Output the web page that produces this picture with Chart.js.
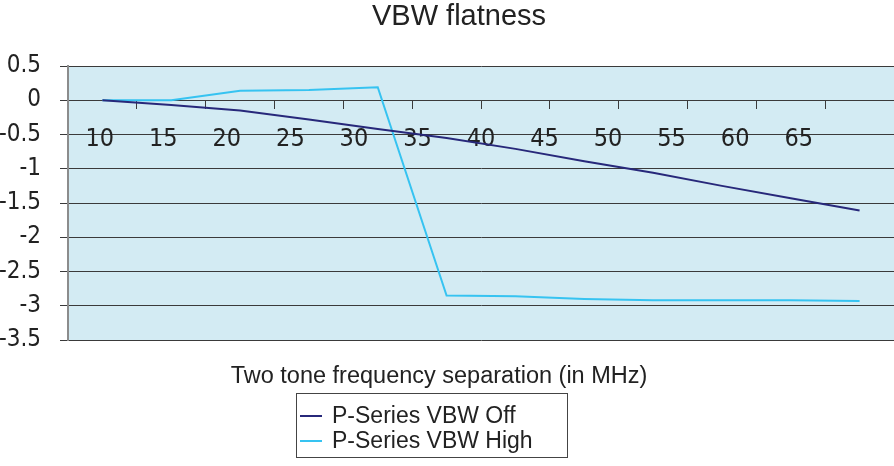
<!DOCTYPE html>
<html lang="en">
<head>
    <meta charset="UTF-8">
    <title>VBW flatness</title>
    <script src="https://cdn.jsdelivr.net/npm/chart.js"></script>
    <style>
        html, body { margin: 0; padding: 0; background: #fff; }
        #wrap { width: 894px; height: 466px; }
    </style>
</head>
<body>
    <div id="wrap"><canvas id="flatChart"></canvas></div>

    <script>
        // data
        const categories = ['10', '15', '20', '25', '30', '35', '40', '45', '50', '55', '60', '65'];
        const tickLabels = ['10', '15', '20', '25', '30', '35', '40', '45', '50', '55', '60', '65', ''];
        const vbwOff = [0, -0.07, -0.15, -0.28, -0.42, -0.55, -0.71, -0.89, -1.06, -1.25, -1.43, -1.61];
        const vbwHigh = [0, 0.0, 0.14, 0.15, 0.19, -2.85, -2.86, -2.90, -2.92, -2.92, -2.92, -2.93];
        const yTicks = [0.5, 0, -0.5, -1, -1.5, -2, -2.5, -3, -3.5];

        // no narrow Univers here, DejaVu condensed is the closest
        const narrow = "'DejaVu Sans Condensed', 'Liberation Sans', sans-serif";
        const sans = "'Liberation Sans', Arial, sans-serif";
        Chart.defaults.font.family = sans;
        Chart.defaults.color = '#222';

        // light blue plot background
        const plotBg = {
            id: 'plotBg',
            beforeDraw(chart) {
                const { ctx, chartArea: a } = chart;
                ctx.save();
                ctx.fillStyle = '#d3ebf3';
                ctx.fillRect(a.left, a.top, a.right - a.left, a.bottom - a.top);
                ctx.restore();
            }
        };

        // title, axis title and the boxed stacked legend
        const texts = {
            id: 'texts',
            afterDraw(chart) {
                const ctx = chart.ctx;
                ctx.save();
                ctx.fillStyle = '#222';
                ctx.textBaseline = 'middle';
                ctx.textAlign = 'center';
                ctx.font = '29px ' + sans;
                ctx.fillText('VBW flatness', 459, 17);

                ctx.font = '23.5px ' + sans;
                ctx.fillText('Two tone frequency separation (in MHz)', 439, 377);

                ctx.strokeStyle = '#444';
                ctx.lineWidth = 1;
                ctx.strokeRect(296.5, 393.5, 271, 64);

                ctx.textAlign = 'left';
                ctx.font = '23px ' + sans;
                chart.data.datasets.forEach((ds, i) => {
                    const y = 416 + i * 25;
                    ctx.strokeStyle = ds.borderColor;
                    ctx.lineWidth = 2;
                    ctx.beginPath();
                    ctx.moveTo(300, y);
                    ctx.lineTo(322, y);
                    ctx.stroke();
                    ctx.fillText(ds.label, 332, y + 1);
                });
                ctx.restore();
            }
        };

        new Chart(document.getElementById('flatChart'), {
            type: 'line',
            data: {
                labels: categories,
                datasets: [
                    {
                        label: 'P-Series VBW Off',
                        data: vbwOff,
                        borderColor: '#27287a',
                        borderWidth: 2,
                        pointRadius: 0,
                        tension: 0,
                        fill: false
                    },
                    {
                        label: 'P-Series VBW High',
                        data: vbwHigh,
                        borderColor: '#36c3f1',
                        borderWidth: 2,
                        pointRadius: 0,
                        tension: 0,
                        fill: false
                    }
                ]
            },
            options: {
                responsive: true,
                maintainAspectRatio: false,
                animation: false,
                layout: { padding: { left: 0, right: 0, top: 66, bottom: 126 } },
                plugins: {
                    legend: { display: false },
                    tooltip: { enabled: false },
                    title: { display: false }
                },
                scales: {
                    // data axis: only the little tick marks on the zero line
                    x: {
                        type: 'category',
                        offset: true,
                        position: { y: 0 },
                        grid: { offset: true, drawOnChartArea: false, tickLength: 8, color: '#3a3a3a' },
                        border: { display: true, color: '#3a3a3a' },
                        ticks: { display: false },
                        afterFit: s => { s.height = 0; }
                    },
                    // label axis: 13 slots, as in the original sheet
                    x2: {
                        type: 'category',
                        labels: tickLabels,
                        offset: true,
                        position: { y: 0 },
                        grid: { display: false },
                        border: { display: false },
                        ticks: {
                            font: { family: narrow, size: 25 },
                            color: '#222',
                            padding: 16,
                            maxRotation: 0,
                            autoSkip: false
                        },
                        afterFit: s => { s.height = 0; }
                    },
                    y: {
                        min: -3.5,
                        max: 0.5,
                        afterBuildTicks: s => { s.ticks = yTicks.map(v => ({ value: v })); },
                        grid: { color: '#3a3a3a', tickLength: 8 },
                        border: { color: '#8c8c8c', width: 2 },
                        ticks: {
                            font: { family: narrow, size: 24 },
                            color: '#222',
                            padding: 19,
                            callback: v => String(v)
                        },
                        afterFit: s => { s.width = 68; }
                    }
                }
            },
            plugins: [plotBg, texts]
        });
    </script>
</body>
</html>
